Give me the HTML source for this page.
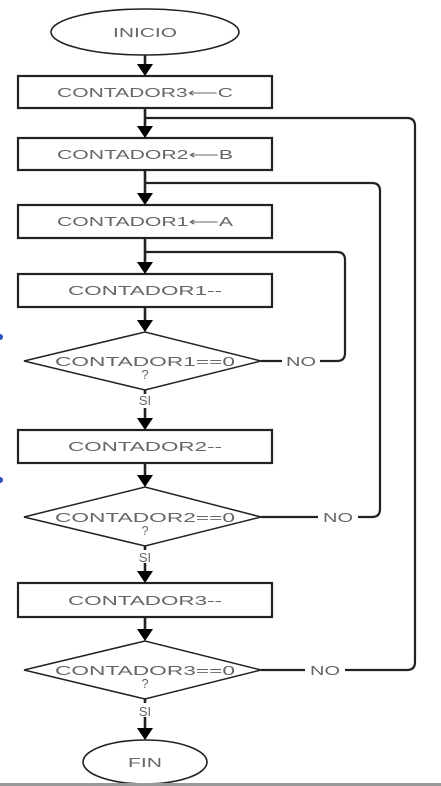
<!DOCTYPE html>
<html><head><style>html,body{margin:0;padding:0;background:#fff;width:441px;height:786px;overflow:hidden}</style></head><body>
<svg width="441" height="786" xmlns="http://www.w3.org/2000/svg" font-family="Liberation Sans, sans-serif">
<g stroke="#222" fill="none" stroke-width="2.2">
<ellipse cx="145" cy="32" rx="94" ry="23" stroke-width="1.6"/>
<rect x="18" y="76" width="254" height="32"/>
<rect x="18" y="138" width="254" height="32"/>
<rect x="18" y="205" width="254" height="33"/>
<rect x="18" y="274" width="254" height="33"/>
<polygon points="24,361 145,332 261,361 145,390" stroke-width="1.5"/>
<rect x="18" y="430" width="254" height="33"/>
<polygon points="24,517 145,487 261,517 145,546" stroke-width="1.5"/>
<rect x="18" y="583" width="254" height="34"/>
<polygon points="24,670 145,641 261,670 145,699" stroke-width="1.5"/>
<ellipse cx="145" cy="762" rx="62" ry="22" stroke-width="1.6"/>
<g stroke-width="2.6">
<line x1="145" y1="55" x2="145" y2="66"/>
<line x1="145" y1="108" x2="145" y2="128"/>
<line x1="145" y1="170" x2="145" y2="195"/>
<line x1="145" y1="238" x2="145" y2="264"/>
<line x1="145" y1="307" x2="145" y2="322"/>
<line x1="145" y1="390" x2="145" y2="394"/>
<line x1="145" y1="408" x2="145" y2="420"/>
<line x1="145" y1="463" x2="145" y2="477"/>
<line x1="145" y1="546" x2="145" y2="550"/>
<line x1="145" y1="563" x2="145" y2="573"/>
<line x1="145" y1="617" x2="145" y2="631"/>
<line x1="145" y1="699" x2="145" y2="703"/>
<line x1="145" y1="717" x2="145" y2="730"/>
</g>
<path d="M261,361 H282 M320,361 H337 Q345,361 345,353 V260 Q345,252 337,252 H145"/>
<path d="M261,517 H318 M358,517 H372 Q380,517 380,509 V191 Q380,183 372,183 H145"/>
<path d="M261,670 H305 M345,670 H407 Q415,670 415,662 V126 Q415,118 407,118 H145"/>
</g>
<g fill="#000">
<path d="M137,64 H153 L145,76 Z"/>
<path d="M137,126 H153 L145,138 Z"/>
<path d="M137,193 H153 L145,205 Z"/>
<path d="M137,262 H153 L145,274 Z"/>
<path d="M137,320 H153 L145,332 Z"/>
<path d="M137,418 H153 L145,430 Z"/>
<path d="M137,475 H153 L145,487 Z"/>
<path d="M137,571 H153 L145,583 Z"/>
<path d="M137,629 H153 L145,641 Z"/>
<path d="M137,728 H153 L145,740 Z"/>
</g>
<g fill="#666" font-size="13" text-anchor="middle">
<text x="145" y="37" textLength="64" lengthAdjust="spacingAndGlyphs">INICIO</text>
<text x="145" y="97" textLength="176" lengthAdjust="spacingAndGlyphs">CONTADOR3⟵C</text>
<text x="145" y="159" textLength="176" lengthAdjust="spacingAndGlyphs">CONTADOR2⟵B</text>
<text x="145" y="226" textLength="176" lengthAdjust="spacingAndGlyphs">CONTADOR1⟵A</text>
<text x="145" y="295" textLength="154" lengthAdjust="spacingAndGlyphs">CONTADOR1--</text>
<text x="145" y="366" textLength="180" lengthAdjust="spacingAndGlyphs">CONTADOR1==0</text><text x="145" y="379">?</text>
<text x="145" y="405">SI</text>
<text x="145" y="451" textLength="154" lengthAdjust="spacingAndGlyphs">CONTADOR2--</text>
<text x="145" y="522" textLength="180" lengthAdjust="spacingAndGlyphs">CONTADOR2==0</text><text x="145" y="535">?</text>
<text x="145" y="562">SI</text>
<text x="145" y="605" textLength="154" lengthAdjust="spacingAndGlyphs">CONTADOR3--</text>
<text x="145" y="675" textLength="180" lengthAdjust="spacingAndGlyphs">CONTADOR3==0</text><text x="145" y="688">?</text>
<text x="145" y="716">SI</text>
<text x="145" y="767" textLength="34" lengthAdjust="spacingAndGlyphs">FIN</text>
<text x="301" y="366" textLength="30" lengthAdjust="spacingAndGlyphs">NO</text>
<text x="338" y="522" textLength="30" lengthAdjust="spacingAndGlyphs">NO</text>
<text x="325" y="675" textLength="30" lengthAdjust="spacingAndGlyphs">NO</text>
</g>
<circle cx="0" cy="337" r="3" fill="#3050c0"/>
<circle cx="0" cy="480" r="3" fill="#3050c0"/>
<rect x="0" y="783" width="441" height="3" fill="#999"/>
</svg>
</body></html>
